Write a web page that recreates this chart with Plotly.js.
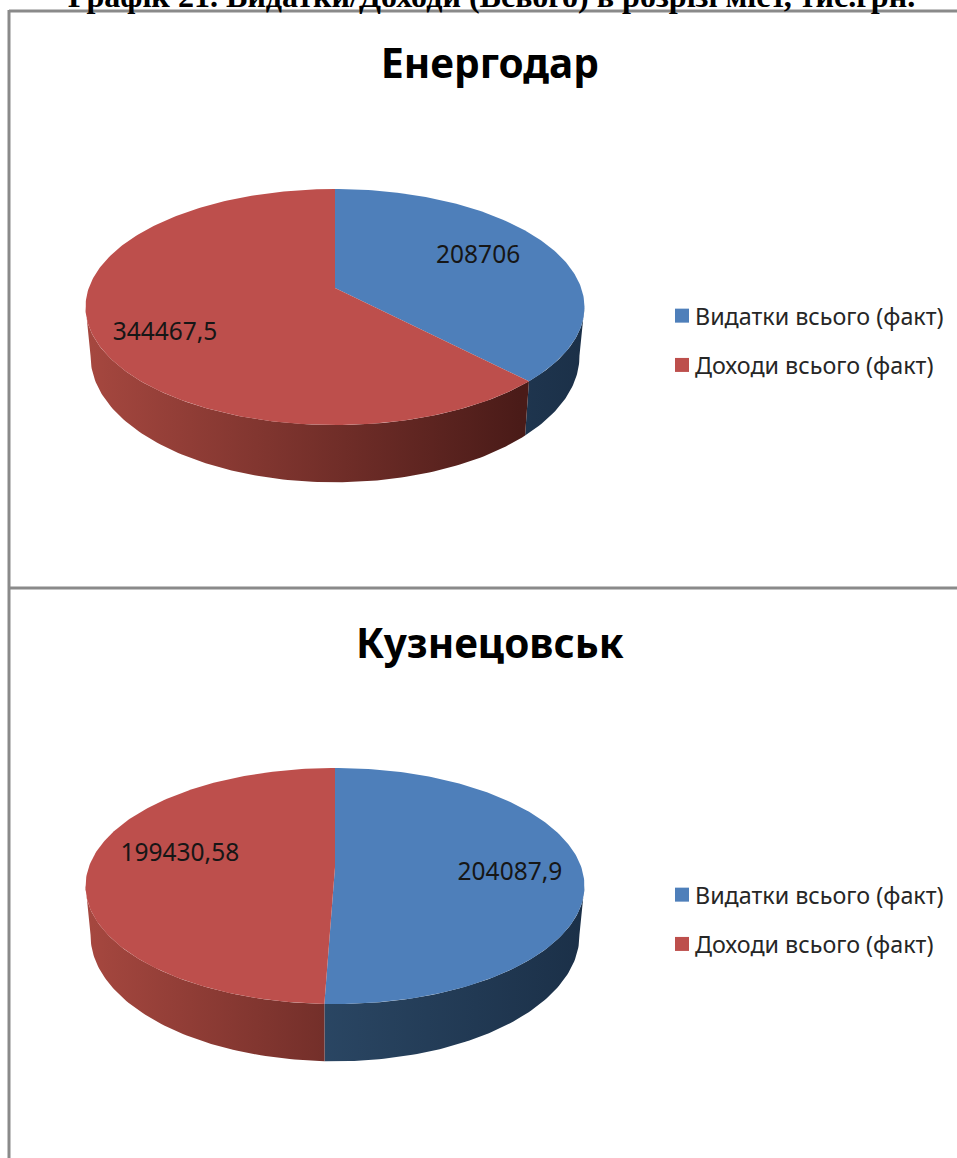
<!DOCTYPE html>
<html><head><meta charset="utf-8">
<script src="https://cdn.plot.ly/plotly-3.0.1.min.js"></script>
<style>html,body{margin:0;padding:0;background:#fff;overflow:hidden}#chart{width:957px;height:1158px}</style>
</head><body><div id="chart"></div>
<script>
// ---- data ----
const pageTitle = "Графік 21. Видатки/Доходи (Всього) в розрізі міст, тис.грн.";
const cities = ["Енергодар", "Кузнецовськ"];
const seriesNames = ["Видатки всього (факт)", "Доходи всього (факт)"];
const expenses = [208706, 204087.9];
const incomes = [344467.5, 199430.58];
const expenseLabels = ["208706", "204087,9"];
const incomeLabels = ["344467,5", "199430,58"];

// ---- layout / style ----
const BLUE = "#4e7fba", RED = "#bd4f4c";
const FONT = "'Noto Sans', 'Open Sans', sans-serif";
const W = 957, H = 1158;
const pieCx = 335, pieCy = [288, 867];      // wedge apex on the page
const A = 246.2, B = 115, K = 0.161;        // perspective of the tilted disc
const DROP = 48, SHRINK = 0.98;             // wall height, narrowing of lower rim
const wallFrom = 99, wallTo = 261;          // visible part of the wall, deg clockwise from top
const labelFrac = [[0.469, 0.469], [0.513, 0.556]];
const labelRad = [[0.68, 0.744], [0.707, 0.655]];
const labelDy = 2;
const titleY = [62, 642], legendY = [294, 873];

function proj(deg, r, cy, lower) {
  const t = deg * Math.PI / 180, u = r * Math.sin(t), v = r * Math.cos(t), d = 1 + K * v;
  const s = lower ? SHRINK : 1;
  return [pieCx + s * A * u / d, cy - B * v / d + (lower ? DROP / d : 0)];
}
function arc(a, b, cy, lower) {
  const pts = [], n = Math.max(2, Math.ceil(Math.abs(b - a)));
  for (let i = 0; i <= n; i++) pts.push(proj(a + (b - a) * i / n, 1, cy, lower));
  return pts;
}
function poly(pts) { return {x: pts.map(p => p[0]), y: pts.map(p => p[1])}; }
function area(pts, extra) {
  return Object.assign({type: "scatter", mode: "lines", fill: "toself", line: {width: 0},
    hoverinfo: "skip", showlegend: false}, poly(pts), extra);
}
const grad = (c0, c1, x0, x1) => ({fillgradient: {type: "horizontal", start: x0, stop: x1,
  colorscale: [[0, c0], [1, c1]]}});

const traces = [];
cities.forEach((city, i) => {
  const cy = pieCy[i], total = expenses[i] + incomes[i], split = 360 * expenses[i] / total;
  // walls
  const walls = [[wallFrom, split, "#2a4663", "#1b3048", 321, 583], [split, wallTo, "#a5473f", "#4a1b18", 91, 520]];
  walls.forEach(w => {
    if (w[1] <= w[0]) return;
    traces.push(area(arc(w[0], w[1], cy, false).concat(arc(w[1], w[0], cy, true)), grad(w[2], w[3], w[4], w[5])));
  });
  // top face
  const apex = [pieCx, cy];
  traces.push(area([apex].concat(arc(0, split, cy, false)).concat([apex]), {fillcolor: BLUE}));
  traces.push(area([apex].concat(arc(split, 360, cy, false)).concat([apex]), {fillcolor: RED}));
  // data labels
  const a1 = split * labelFrac[i][0], a2 = split + (360 - split) * labelFrac[i][1];
  const p1 = proj(a1, labelRad[i][0], cy, false), p2 = proj(a2, labelRad[i][1], cy, false);
  traces.push({type: "scatter", mode: "text", x: [p1[0], p2[0]], y: [p1[1] + labelDy, p2[1] + labelDy],
    text: [expenseLabels[i], incomeLabels[i]], textposition: "middle center",
    textfont: {family: FONT, size: 24.5, color: "#161616"}, hoverinfo: "skip", showlegend: false});
  // legend entries
  const lg = i === 0 ? "legend" : "legend2";
  seriesNames.forEach((name, j) => traces.push({type: "scatter", mode: "markers", x: [null], y: [null],
    name, legend: lg, legendgroup: lg + j, showlegend: true,
    marker: {symbol: "square", size: 14, color: j === 0 ? BLUE : RED}}));
});

const legendCommon = {xanchor: "left", yanchor: "top", x: 662 / W, tracegroupgap: 16, itemclick: false, itemdoubleclick: false,
  bgcolor: "rgba(0,0,0,0)", font: {family: FONT, size: 23.3, color: "#262626"}, traceorder: "grouped", itemsizing: "trace", indentation: -7};
const hidden = {visible: false, fixedrange: true};
const grey = {color: "#8a8a8a", width: 3};
const layout = {
  width: W, height: H, margin: {l: 0, r: 0, t: 0, b: 0}, paper_bgcolor: "#fff", plot_bgcolor: "#fff",
  xaxis: Object.assign({range: [0, W]}, hidden),
  yaxis: Object.assign({range: [H, 0]}, hidden),
  legend: Object.assign({}, legendCommon, {y: 1 - legendY[0] / H}),
  legend2: Object.assign({}, legendCommon, {y: 1 - legendY[1] / H}),
  shapes: [
    {type: "line", xref: "x", yref: "y", x0: 9, x1: W, y0: 11, y1: 11, line: grey},
    {type: "line", xref: "x", yref: "y", x0: 9, x1: 9, y0: 10, y1: H, line: grey},
    {type: "line", xref: "x", yref: "y", x0: 9, x1: W, y0: 588, y1: 588, line: grey}
  ],
  annotations: [
    {xref: "x", yref: "y", x: 491, y: 16, yanchor: "bottom", xanchor: "center", showarrow: false, text: "<b>" + pageTitle + "</b>",
      font: {family: "'Liberation Serif', serif", size: 32.1, color: "#000"}},
    {xref: "x", yref: "y", x: 490, y: titleY[0], yanchor: "middle", xanchor: "center", showarrow: false, text: "<b>" + cities[0] + "</b>",
      font: {family: FONT, size: 40.5, color: "#000"}},
    {xref: "x", yref: "y", x: 490, y: titleY[1], yanchor: "middle", xanchor: "center", showarrow: false, text: "<b>" + cities[1] + "</b>",
      font: {family: FONT, size: 40.5, color: "#000"}}
  ]
};
Plotly.newPlot("chart", traces, layout, {displayModeBar: false, staticPlot: true}).then(gd => {
  // the reference sets its legend swatches closer to the text than Plotly's fixed gap
  gd.querySelectorAll(".legendsymbols").forEach(el => {
    el.setAttribute("transform", (el.getAttribute("transform") || "") + " translate(7,0)");
  });
});
</script></body></html>
